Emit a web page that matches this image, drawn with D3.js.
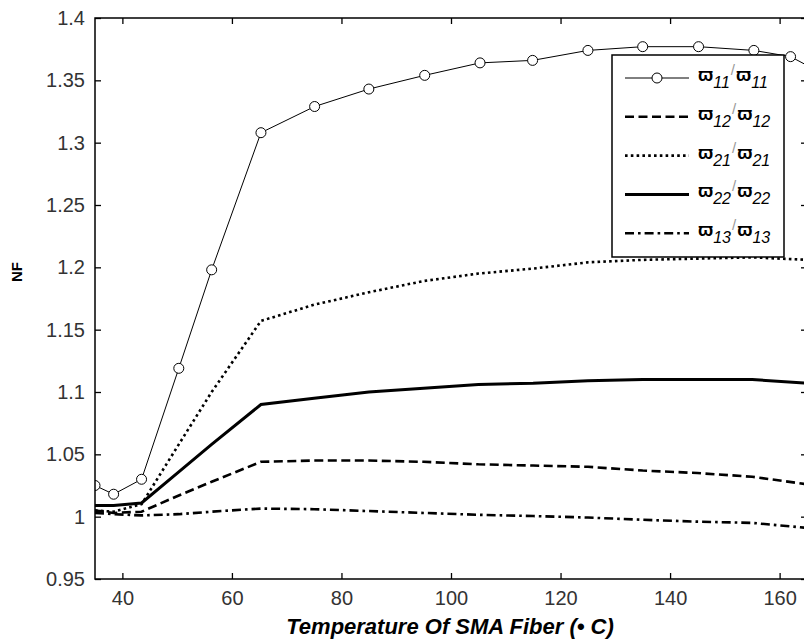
<!DOCTYPE html>
<html>
<head>
<meta charset="utf-8">
<script src="https://cdn.jsdelivr.net/npm/d3@7"></script>
<style>
  body { margin: 0; background: #fff; }
  text { font-family: "Liberation Sans", Arial, sans-serif; }
</style>
</head>
<body>
<div id="chart"></div>
<script>
// temperatures (deg C)
const tempsW11 = [35, 38.4, 43.5, 50.3, 56.3, 65.3, 75.1, 85, 95.2, 105.3, 114.9, 125, 135, 145.2, 155.3, 162, 165];
const temps = [35, 38.4, 43.5, 50.3, 56.3, 65.3, 75, 85, 95, 105, 115, 125, 135, 145, 155, 165];

const w11 = [1.025, 1.018, 1.030, 1.119, 1.198, 1.308, 1.329, 1.343, 1.354, 1.364, 1.366, 1.374, 1.377, 1.377, 1.374, 1.369, 1.362];
const w12 = [1.005, 1.003, 1.004, 1.017, 1.028, 1.044, 1.045, 1.045, 1.044, 1.042, 1.041, 1.040, 1.037, 1.035, 1.032, 1.026];
const w21 = [1.005, 1.004, 1.010, 1.058, 1.100, 1.157, 1.170, 1.180, 1.189, 1.195, 1.199, 1.204, 1.206, 1.207, 1.208, 1.206];
const w22 = [1.009, 1.009, 1.011, 1.036, 1.058, 1.090, 1.095, 1.100, 1.103, 1.106, 1.107, 1.109, 1.110, 1.110, 1.110, 1.107];
const w13 = [1.003, 1.002, 1.001, 1.002, 1.004, 1.0065, 1.006, 1.0045, 1.003, 1.0015, 1.0005, 0.9993, 0.9975, 0.996, 0.995, 0.991];

const xTicks = [40, 60, 80, 100, 120, 140, 160];
const yTicks = [0.95, 1, 1.05, 1.1, 1.15, 1.2, 1.25, 1.3, 1.35, 1.4];

const legendKeys = ["11", "12", "21", "22", "13"];

const width = 804, height = 644;
const margin = { left: 95, right: 807, top: 18, bottom: 579 };

const svg = d3.select("#chart").append("svg")
    .attr("width", width)
    .attr("height", height)
    .style("background", "#fff");

const x = d3.scaleLinear().domain([35, 165]).range([margin.left, margin.right]);
const y = d3.scaleLinear().domain([0.95, 1.4]).range([margin.bottom, margin.top]);

svg.append("clipPath").attr("id", "plot")
    .append("rect")
    .attr("x", margin.left).attr("y", margin.top)
    .attr("width", margin.right - margin.left).attr("height", margin.bottom - margin.top);

// line styles for each series
const styles = {
    "11": { w: 1, dash: null },
    "12": { w: 2.6, dash: "9,4.5" },
    "21": { w: 2.6, dash: "2.6,3.2" },
    "22": { w: 3, dash: null },
    "13": { w: 2.6, dash: "9,4,2.6,4" }
};

const series = [
    { key: "11", xs: tempsW11, ys: w11 },
    { key: "12", xs: temps, ys: w12 },
    { key: "21", xs: temps, ys: w21 },
    { key: "22", xs: temps, ys: w22 },
    { key: "13", xs: temps, ys: w13 }
];

const line = d3.line().x(d => x(d[0])).y(d => y(d[1]));

const plot = svg.append("g").attr("clip-path", "url(#plot)");

series.forEach(s => {
    const pts = s.xs.map((t, i) => [t, s.ys[i]]);
    plot.append("path")
        .datum(pts)
        .attr("fill", "none")
        .attr("stroke", "#000")
        .attr("stroke-width", styles[s.key].w)
        .attr("stroke-dasharray", styles[s.key].dash)
        .attr("d", line);
    if (s.key === "11") {
        plot.selectAll(".mk")
            .data(pts.filter(d => d[0] < 164))
            .join("circle")
            .attr("class", "mk")
            .attr("cx", d => x(d[0]))
            .attr("cy", d => y(d[1]))
            .attr("r", 5)
            .attr("fill", "#fff")
            .attr("stroke", "#000")
            .attr("stroke-width", 1);
    }
});

// axes (ticks point inward, box on all sides)
const tickLen = 6;
svg.append("g")
    .attr("transform", `translate(0,${margin.bottom})`)
    .call(d3.axisBottom(x).tickValues(xTicks).tickSize(-tickLen).tickPadding(12).tickFormat(d3.format("d")))
    .call(g => g.select(".domain").remove());
svg.append("g")
    .attr("transform", `translate(0,${margin.top})`)
    .call(d3.axisTop(x).tickValues(xTicks).tickSize(-tickLen).tickFormat(""))
    .call(g => g.select(".domain").remove());
svg.append("g")
    .attr("transform", `translate(${margin.left},0)`)
    .call(d3.axisLeft(y).tickValues(yTicks).tickSize(-tickLen).tickPadding(10).tickFormat(d => String(+d.toFixed(2))))
    .call(g => g.select(".domain").remove());
svg.append("g")
    .attr("transform", `translate(${margin.right},0)`)
    .call(d3.axisRight(y).tickValues(yTicks).tickSize(-tickLen).tickFormat(""))
    .call(g => g.select(".domain").remove());

svg.selectAll(".tick line").attr("stroke", "#000").attr("stroke-width", 1.3);
svg.selectAll(".tick text")
    .attr("fill", "#333")
    .style("font-size", "20px");

svg.append("rect")
    .attr("x", margin.left).attr("y", margin.top)
    .attr("width", margin.right - margin.left).attr("height", margin.bottom - margin.top)
    .attr("fill", "none")
    .attr("stroke", "#000")
    .attr("stroke-width", 1.5);

// axis titles
svg.append("text")
    .attr("x", 450)
    .attr("y", 634)
    .attr("text-anchor", "middle")
    .style("font-size", "22px")
    .style("font-weight", "bold")
    .style("font-style", "italic")
    .text("Temperature Of SMA Fiber (\u2022 C)");

svg.append("text")
    .attr("transform", "translate(22,272) rotate(-90)")
    .attr("text-anchor", "middle")
    .style("font-size", "15px")
    .style("font-weight", "bold")
    .text("NF");

// legend
const lg = svg.append("g");
const lgX = 612, lgY = 55, lgW = 172, lgH = 202, rowH = 38.8;
lg.append("rect")
    .attr("x", lgX).attr("y", lgY)
    .attr("width", lgW).attr("height", lgH)
    .attr("fill", "#fff")
    .attr("stroke", "#000")
    .attr("stroke-width", 1.5);

legendKeys.forEach((k, i) => {
    const ry = lgY + 23 + i * rowH;
    lg.append("line")
        .attr("x1", lgX + 13).attr("x2", lgX + 77)
        .attr("y1", ry).attr("y2", ry)
        .attr("stroke", "#000")
        .attr("stroke-width", styles[k].w)
        .attr("stroke-dasharray", styles[k].dash);
    if (k === "11") {
        lg.append("circle")
            .attr("cx", lgX + 45).attr("cy", ry).attr("r", 5)
            .attr("fill", "#fff").attr("stroke", "#000");
    }
    const t = lg.append("text")
        .attr("x", lgX + 86)
        .attr("y", ry + 3)
        .style("font-size", "18px");
    t.append("tspan").style("font-weight", "bold").text("\u03d6");
    t.append("tspan").attr("dy", 7).style("font-style", "italic").style("font-size", "16px").text(k);
    t.append("tspan").attr("dy", -13).attr("dx", 1).attr("fill", "#999").style("font-size", "15px").text("/");
    t.append("tspan").attr("dy", 6).attr("dx", 1).style("font-weight", "bold").text("\u03d6");
    t.append("tspan").attr("dy", 7).style("font-style", "italic").style("font-size", "16px").text(k);
});
</script>
</body>
</html>
